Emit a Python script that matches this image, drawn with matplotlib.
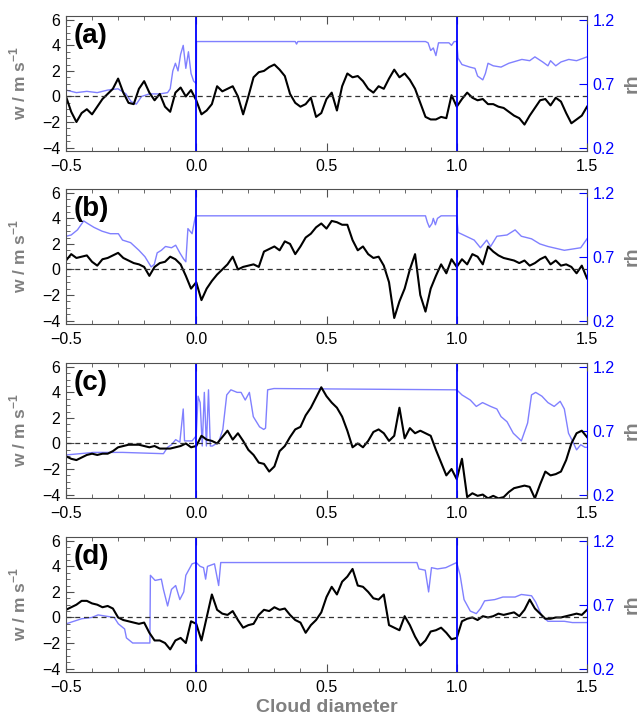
import numpy as np
import matplotlib
matplotlib.use('Agg')
import matplotlib.pyplot as plt
from matplotlib.ticker import MultipleLocator, FixedLocator

plt.rcParams['font.family'] = ['Liberation Sans', 'DejaVu Sans']
plt.rcParams['mathtext.fontset'] = 'custom'
plt.rcParams['mathtext.rm'] = 'Liberation Sans'
plt.rcParams['mathtext.bf'] = 'Liberation Sans:bold'

# === DATA ===
# w sampled every 0.02 cloud diameters from -0.5 to 1.5
x_w = np.linspace(-0.5, 1.5, 101)

w_a = [0.0, -1.2, -2.0, -1.3, -1.0, -1.4, -0.8, -0.2, 0.2, 0.6,
       1.4, 0.3, -0.5, -0.6, 0.6, 1.2, 0.3, -0.3, 0.2, -0.8,
       -1.2, 0.3, 0.7, 0.0, 0.5, -0.3, -1.4, -1.1, -0.6, 0.8,
       0.4, 0.6, 0.8, 0.0, -1.4, 0.0, 1.5, 1.9, 2.0, 2.3,
       2.5, 2.1, 1.6, 0.2, -0.5, -0.8, -0.6, -0.1, -1.6, -1.3,
       -0.2, 0.3, -1.1, 0.8, 1.8, 1.5, 1.6, 1.2, 0.6, 0.3,
       0.8, 0.6, 1.4, 2.1, 1.5, 1.8, 1.3, 0.6, -0.5, -1.6,
       -1.8, -1.8, -1.6, -1.7, 0.1, -0.8, -0.2, 0.3, -0.1, -0.3,
       -0.2, -0.6, -0.6, -0.8, -0.9, -1.2, -1.5, -1.7, -2.2, -1.5,
       -0.9, -0.3, -0.2, -0.7, -0.1, -0.4, -1.3, -2.1, -1.8, -1.5,
       -0.8]

w_b = [0.7, 1.2, 0.9, 1.0, 1.1, 0.6, 0.3, 0.8, 0.9, 1.1,
       1.3, 0.9, 0.7, 0.5, 0.4, 0.2, -0.5, 0.2, 0.5, 0.6,
       1.0, 0.8, 0.4, -0.5, -1.5, -1.0, -2.4, -1.5, -0.9, -0.4,
       0.0, 0.4, 1.0, 0.0, 0.2, 0.3, 0.4, 0.2, 1.4, 1.6,
       1.8, 1.5, 2.2, 2.0, 1.2, 1.8, 2.5, 2.8, 3.3, 3.6,
       3.2, 3.8, 3.7, 3.5, 3.5, 2.3, 1.5, 1.8, 1.2, 0.9,
       1.0, 0.3, -1.0, -3.8, -2.5, -1.5, 0.0, 1.2, -2.0, -3.3,
       -1.5, -0.5, 0.4, -0.3, 0.8, 0.2, 0.8, 0.4, 1.2, 1.0,
       0.4, 1.8, 1.4, 1.1, 0.9, 0.8, 0.7, 0.5, 0.7, 0.3,
       0.5, 0.8, 1.0, 0.4, 0.7, 0.3, 0.4, 0.2, -0.3, 0.3,
       -0.7]

w_c = [-1.0, -1.2, -1.3, -1.1, -0.9, -0.8, -0.9, -0.8, -0.8, -0.6,
       -0.3, -0.2, -0.1, -0.1, -0.1, -0.2, -0.3, -0.2, -0.4, -0.4,
       -0.4, -0.3, -0.2, 0.0, -0.3, -0.2, 0.6, 0.3, 0.2, 0.0,
       0.5, 1.0, 0.3, 0.8, 0.2, -0.5, -0.9, -1.5, -1.6, -2.2,
       -1.8, -0.6, -0.2, 0.5, 1.1, 1.3, 2.2, 2.8, 3.6, 4.4,
       3.7, 3.2, 2.8, 2.1, 1.0, -0.3, 0.0, -0.3, 0.2, 0.9,
       1.1, 0.8, 0.2, 0.6, 2.8, 0.4, 1.2, 0.8, 1.0, 0.8,
       0.6, -0.5, -1.5, -2.5, -2.0, -2.8, -1.2, -4.2, -3.9, -4.1,
       -4.0, -4.3, -4.1, -4.3, -4.2, -3.8, -3.5, -3.4, -3.3, -3.4,
       -4.3, -3.2, -2.2, -2.5, -2.4, -2.2, -1.3, 0.0, 0.8, 1.0,
       0.5]

w_d = [0.6, 0.8, 1.0, 1.3, 1.3, 1.1, 1.0, 0.8, 0.9, 0.7,
       0.0, -0.2, -0.3, -0.4, -0.5, -0.4, -1.2, -1.8, -1.8, -2.0,
       -2.5, -1.8, -1.6, -2.0, -0.3, -0.5, -1.8, 0.0, 1.8, 0.6,
       0.3, 0.2, 0.5, -0.2, -0.8, -0.6, -0.5, 0.2, 0.6, 0.5,
       0.8, 0.6, 0.7, 0.2, -0.2, -0.4, -1.2, -0.6, -0.2, 0.4,
       1.6, 2.4, 1.8, 2.8, 3.2, 3.8, 2.5, 2.4, 2.0, 1.5,
       1.4, 1.8, -0.6, -0.8, -1.0, 0.1, -0.6, -1.5, -2.2, -1.8,
       -1.1, -1.0, -0.8, -1.2, -1.7, -1.6, -0.3, -0.1, 0.0, -0.2,
       0.1, 0.0, 0.1, 0.3, 0.2, 0.3, 0.4, 0.1, 0.6, 1.4,
       0.7, 0.3, -0.1, -0.1, 0.0, 0.0, 0.1, 0.2, 0.3, 0.2,
       0.6]

# rh breakpoints (x, rh)
rh_a_x = [-0.50, -0.46, -0.42, -0.38, -0.34, -0.30, -0.27, -0.25, -0.23, -0.21,
          -0.18, -0.14, -0.11, -0.10, -0.09, -0.08, -0.07, -0.06, -0.05, -0.04,
          -0.03, -0.02, -0.01, 0.0, 0.001, 0.38, 0.385, 0.39, 0.88, 0.89,
          0.90, 0.91, 0.92, 0.93, 0.97, 0.98, 0.99, 1.0, 1.005, 1.02,
          1.05, 1.07, 1.08, 1.10, 1.11, 1.12, 1.14, 1.17, 1.20, 1.25,
          1.28, 1.30, 1.33, 1.35, 1.36, 1.38, 1.40, 1.43, 1.46, 1.50]
rh_a = [0.65, 0.63, 0.64, 0.63, 0.65, 0.66, 0.62, 0.56, 0.54, 0.60,
        0.62, 0.62, 0.63, 0.66, 0.80, 0.86, 0.80, 0.93, 1.00, 0.82,
        0.95, 0.78, 0.72, 0.70, 1.03, 1.03, 1.01, 1.03, 1.03, 1.02,
        0.96, 0.98, 0.92, 1.02, 1.02, 1.00, 1.03, 1.03, 0.90, 0.85,
        0.83, 0.82, 0.76, 0.73, 0.78, 0.86, 0.84, 0.83, 0.86, 0.89,
        0.88, 0.91, 0.87, 0.84, 0.88, 0.84, 0.87, 0.89, 0.88, 0.91]

rh_b_x = [-0.50, -0.48, -0.456, -0.432, -0.417, -0.393, -0.362, -0.33, -0.299, -0.283,
          -0.252, -0.22, -0.197, -0.173, -0.161, -0.15, -0.134, -0.118, -0.095, -0.079,
          -0.063, -0.048, -0.040, -0.032, -0.016, -0.004, 0.001, 0.88, 0.887, 0.895,
          0.905, 0.91, 0.918, 0.926, 0.94, 1.0, 1.005, 1.036, 1.067, 1.091,
          1.115, 1.13, 1.154, 1.193, 1.224, 1.248, 1.287, 1.319, 1.35, 1.413,
          1.476, 1.50]
rh_b = [0.86, 0.87, 0.91, 0.98, 0.96, 0.93, 0.90, 0.88, 0.88, 0.83,
        0.81, 0.75, 0.70, 0.62, 0.64, 0.73, 0.75, 0.78, 0.77, 0.79,
        0.73, 0.68, 0.66, 0.92, 0.88, 1.01, 1.02, 1.02, 0.97, 0.93,
        0.96, 1.00, 0.95, 1.00, 1.02, 1.02, 0.89, 0.86, 0.83, 0.77,
        0.83, 0.78, 0.86, 0.87, 0.91, 0.86, 0.84, 0.80, 0.78, 0.75,
        0.77, 0.84]

rh_c_x = [-0.5, -0.393, -0.283, -0.126, -0.11, -0.095, -0.079, -0.063, -0.05, -0.045,
          -0.016, 0.0, 0.007, 0.015, 0.023, 0.031, 0.039, 0.047, 0.054, 0.062,
          0.086, 0.102, 0.117, 0.133, 0.157, 0.172, 0.188, 0.204, 0.219, 0.243,
          0.259, 0.266, 0.274, 0.298, 1.0, 1.02, 1.052, 1.075, 1.099, 1.13,
          1.154, 1.17, 1.193, 1.217, 1.248, 1.272, 1.287, 1.303, 1.327, 1.35,
          1.374, 1.397, 1.413, 1.429, 1.444, 1.46, 1.476, 1.492, 1.5]
rh_c = [0.51, 0.53, 0.53, 0.52, 0.57, 0.59, 0.63, 0.61, 0.87, 0.62,
        0.62, 0.66, 0.97, 0.92, 0.58, 1.00, 0.58, 1.02, 0.58, 0.58,
        0.61, 0.71, 0.98, 1.02, 1.00, 1.00, 0.94, 1.00, 0.81, 0.73,
        0.71, 0.72, 1.02, 1.03, 1.02, 0.98, 0.94, 0.89, 0.92, 0.89,
        0.87, 0.81, 0.77, 0.68, 0.62, 0.76, 0.98, 1.00, 0.97, 0.92,
        0.89, 0.93, 0.87, 0.68, 0.62, 0.55, 0.59, 0.57, 0.57]

rh_d_x = [-0.5, -0.44, -0.401, -0.377, -0.346, -0.315, -0.299, -0.275, -0.268, -0.244,
          -0.189, -0.178, -0.176, -0.158, -0.134, -0.126, -0.11, -0.095, -0.079, -0.063,
          -0.048, -0.040, -0.016, 0.0, 0.015, 0.028, 0.036, 0.043, 0.07, 0.086,
          0.094, 0.847, 0.855, 0.879, 0.892, 0.903, 0.926, 0.958, 0.989, 1.0,
          1.013, 1.028, 1.052, 1.075, 1.091, 1.107, 1.146, 1.177, 1.224, 1.248,
          1.287, 1.303, 1.327, 1.35, 1.413, 1.444, 1.5]
rh_d = [0.55, 0.59, 0.60, 0.62, 0.61, 0.60, 0.55, 0.51, 0.44, 0.40,
        0.40, 0.40, 0.93, 0.89, 0.90, 0.82, 0.69, 0.82, 0.85, 0.74,
        0.80, 0.93, 1.02, 1.03, 1.00, 0.99, 0.90, 1.00, 1.02, 0.85,
        1.03, 1.03, 0.98, 0.97, 0.80, 0.99, 0.98, 0.99, 1.02, 1.03,
        0.93, 0.74, 0.65, 0.63, 0.67, 0.73, 0.74, 0.76, 0.76, 0.78,
        0.77, 0.72, 0.61, 0.57, 0.57, 0.56, 0.56]

panels = [('(a)', w_a, rh_a_x, rh_a),
          ('(b)', w_b, rh_b_x, rh_b),
          ('(c)', w_c, rh_c_x, rh_c),
          ('(d)', w_d, rh_d_x, rh_d)]

# === STYLE ===
W, H = 641, 718
LEFT, RIGHT = 66, 587
TOPS = [16, 189, 363, 537]
PH = 135
GREY = '#808080'
FRAME = '#505050'
BLUE = '#0000ff'
LIGHT_BLUE = '#8080ff'

fig = plt.figure(figsize=(W / 100, H / 100), dpi=100)

for (label, w, rx, rh), top in zip(panels, TOPS):
    ax = fig.add_axes([LEFT / W, 1 - (top + PH) / H, (RIGHT - LEFT) / W, PH / H])
    ax2 = ax.twinx()
    ax.set_zorder(ax2.get_zorder() + 1)
    ax.patch.set_visible(False)

    ax2.plot(rx, rh, color=LIGHT_BLUE, lw=1.0)
    ax.plot(x_w, w, color='black', lw=1.5)
    ax.axhline(0, color='#333333', lw=0.9, ls=(0, (4, 3)))
    ax.axvline(0, color=BLUE, lw=1.3)
    ax.axvline(1, color=BLUE, lw=1.3)

    ax.set_xlim(-0.5, 1.5)
    ax.set_ylim(-4.27, 6.3)
    ax2.set_ylim(0.173, 1.23)

    ax.xaxis.set_major_locator(MultipleLocator(0.5))
    ax.xaxis.set_minor_locator(MultipleLocator(0.1))
    ax.yaxis.set_major_locator(MultipleLocator(2))
    ax.yaxis.set_minor_locator(MultipleLocator(0.5))
    ax.set_xticklabels([f'{v:.1f}'.replace('-', '\u2212') for v in ax.get_xticks()])
    ax.tick_params(which='both', direction='in', top=True, right=False,
                   labelsize=11.5, color=FRAME)
    ax.tick_params(axis='x', pad=6)
    ax.tick_params(axis='y', pad=4)
    ax.tick_params(which='major', length=6)
    ax.tick_params(which='minor', length=3)

    ax2.yaxis.set_major_locator(FixedLocator([0.2, 0.7, 1.2]))
    ax2.set_yticklabels(['0.2', '0.7', '1.2'])
    ax2.tick_params(direction='in', length=6, colors=BLUE, labelsize=11.5, pad=4)

    for s in ['left', 'top', 'bottom']:
        ax.spines[s].set_color(FRAME)
        ax2.spines[s].set_visible(False)
    ax.spines['right'].set_visible(False)
    ax2.spines['right'].set_color(BLUE)

    ax.set_ylabel('w / m s$^{\\mathbf{-1}}$', color=GREY, fontsize=12.5, fontweight='bold')
    ax.yaxis.set_label_coords(-0.073, 0.5)
    ax2.set_ylabel('rh', color=GREY, fontsize=14, fontweight='bold')
    ax2.yaxis.set_label_coords(1.071, 0.5)

    ax.text(0.014, 0.85, label, transform=ax.transAxes, fontsize=20,
            fontweight='bold', va='center', ha='left')

fig.text((LEFT + RIGHT) / 2 / W, 1 - 707 / H, 'Cloud diameter', color=GREY,
         fontsize=14, fontweight='bold', ha='center', va='center')

fig.savefig('out.png', dpi=100)
